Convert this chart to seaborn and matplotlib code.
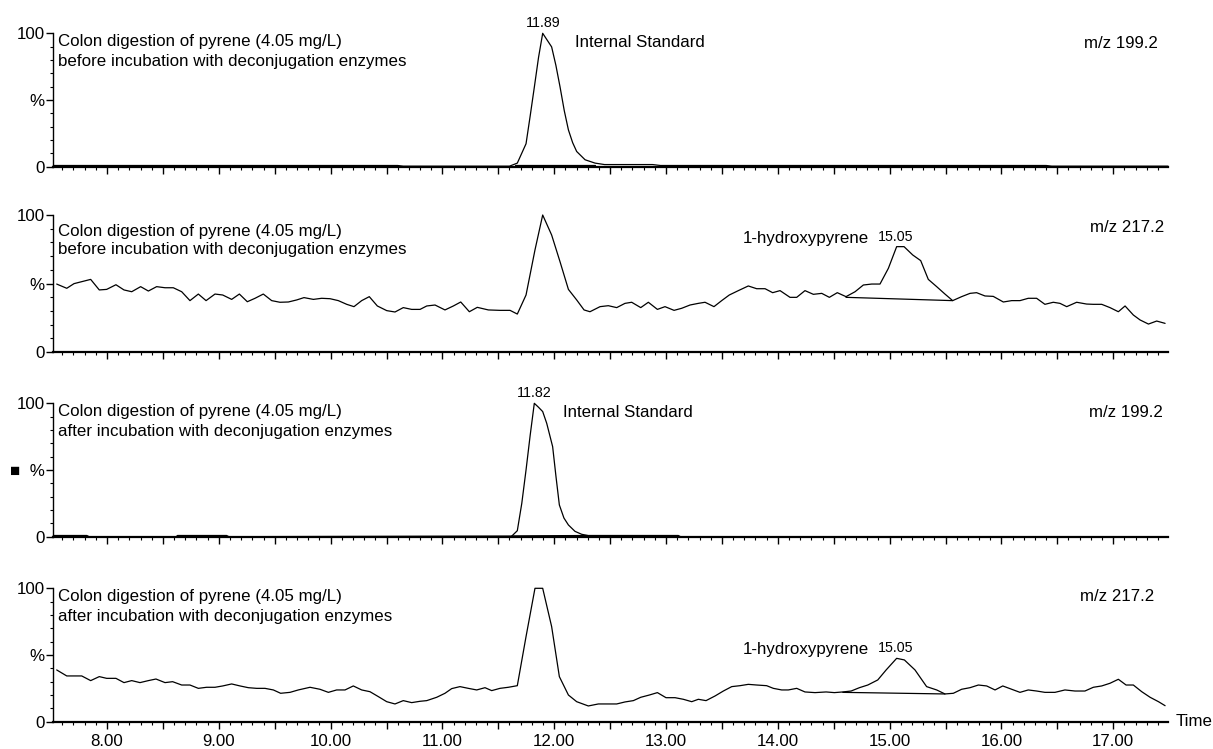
import numpy as np
import pandas as pd
import matplotlib
matplotlib.use("Agg")
import matplotlib.pyplot as plt
from matplotlib.ticker import MultipleLocator
import seaborn as sns

# ---------------- data ----------------
# Panel 1: m/z 199.2, before incubation (internal standard)
p1_time = [7.52, 10.60, 10.65, 11.60, 11.649, 11.670, 11.748, 11.785, 11.822, 11.860, 11.897, 11.977,
           12.015, 12.052, 12.090, 12.127, 12.165, 12.201, 12.276, 12.365, 12.45, 12.88, 12.95,
           16.40, 16.45, 17.49]
p1_pct = [0.9, 0.9, 0.4, 0.4, 2.0, 2.7, 17.2, 38.0, 59.5, 82.0, 100.0, 89.8,
          76.0, 59.9, 42.0, 27.6, 18.0, 11.4, 5.2, 2.7, 1.6, 1.6, 0.9,
          0.9, 0.4, 0.4]
p1_base_time = [11.649, 12.365]
p1_base_pct = [1.5, 1.5]

# Panel 2: m/z 217.2, before incubation
p2_time = [7.550, 7.640, 7.705, 7.774, 7.854, 7.931, 7.997, 8.080, 8.152, 8.221,
           8.301, 8.370, 8.444, 8.519, 8.593, 8.668, 8.742, 8.817, 8.886, 8.966,
           9.035, 9.115, 9.184, 9.255, 9.324, 9.398, 9.473, 9.547, 9.622, 9.697,
           9.762, 9.846, 9.920, 9.995, 10.069, 10.144, 10.209, 10.278, 10.346, 10.418,
           10.502, 10.576, 10.650, 10.725, 10.800, 10.860, 10.934, 11.023, 11.098, 11.164,
           11.241, 11.312, 11.411, 11.515, 11.605, 11.670, 11.748, 11.828, 11.897, 11.977,
           12.052, 12.127, 12.201, 12.267, 12.320, 12.410, 12.484, 12.559, 12.633, 12.693,
           12.774, 12.842, 12.923, 12.991, 13.072, 13.140, 13.215, 13.289, 13.349, 13.429,
           13.498, 13.566, 13.647, 13.736, 13.811, 13.886, 13.954, 14.020, 14.109, 14.169,
           14.243, 14.318, 14.393, 14.461, 14.532, 14.610, 14.691, 14.765, 14.840, 14.914,
           14.989, 15.063, 15.129, 15.207, 15.278, 15.346, 15.421, 15.495, 15.564, 15.644,
           15.719, 15.778, 15.853, 15.927, 16.017, 16.092, 16.166, 16.240, 16.315, 16.389,
           16.464, 16.524, 16.584, 16.673, 16.762, 16.822, 16.897, 16.971, 17.046, 17.106,
           17.180, 17.240, 17.315, 17.389, 17.464]
p2_pct = [49.6, 46.5, 49.9, 51.3, 53.0, 45.3, 45.7, 49.1, 45.3, 44.0,
          47.7, 44.5, 47.7, 46.9, 46.9, 44.0, 37.5, 42.3, 37.5, 42.3,
          41.6, 38.4, 42.3, 36.7, 39.2, 42.3, 37.5, 36.3, 36.5, 38.0,
          39.7, 38.4, 39.2, 38.9, 37.5, 34.8, 33.1, 37.5, 40.4, 33.6,
          30.2, 29.2, 32.4, 31.1, 31.1, 33.6, 34.3, 30.7, 33.6, 36.5,
          29.4, 32.6, 30.7, 30.4, 30.4, 27.7, 41.6, 74.5, 100.0, 85.4,
          65.9, 45.7, 38.0, 30.7, 29.4, 33.1, 33.8, 32.4, 35.5, 36.3,
          32.4, 36.3, 31.1, 33.1, 30.4, 31.9, 34.3, 35.5, 36.3, 33.1,
          37.5, 41.6, 44.8, 48.2, 46.2, 46.2, 43.3, 44.8, 39.9, 39.9,
          44.8, 42.1, 42.8, 39.9, 43.3, 40.4, 44.0, 48.9, 49.6, 49.6,
          61.1, 76.9, 76.9, 70.8, 66.7, 53.0, 47.7, 42.3, 37.5, 40.4,
          42.8, 43.3, 40.9, 40.6, 36.5, 37.5, 37.5, 39.2, 39.2, 34.8,
          36.3, 35.5, 33.1, 36.3, 35.0, 34.8, 34.8, 32.4, 29.4, 33.6,
          27.0, 23.4, 20.4, 22.6, 20.9]
p2_base_time = [14.610, 15.564]
p2_base_pct = [39.9, 37.5]

# Panel 3: m/z 199.2, after incubation (internal standard)
p3_time = [7.52, 7.82, 7.84, 8.62, 8.63, 9.07, 9.09, 11.621, 11.670, 11.710, 11.748, 11.785,
           11.822, 11.860, 11.897, 11.933, 11.986, 12.016, 12.046, 12.087, 12.127, 12.186, 12.246,
           12.30, 13.11, 13.13, 17.49]
p3_pct = [0.9, 0.9, 0.0, 0.0, 0.9, 0.9, 0.0, 0.5, 4.5, 25.0, 50.0, 76.0,
          100.0, 97.0, 93.8, 85.0, 67.5, 45.0, 23.8, 14.0, 8.8, 4.0, 1.8,
          0.9, 0.9, 0.0, 0.0]
p3_base_time = [11.621, 12.30]
p3_base_pct = [0.6, 0.9]

# Panel 4: m/z 217.2, after incubation
p4_time = [7.550, 7.640, 7.774, 7.854, 7.931, 7.997, 8.080, 8.152, 8.221, 8.295,
           8.370, 8.438, 8.519, 8.587, 8.668, 8.742, 8.817, 8.891, 8.966, 9.035,
           9.115, 9.190, 9.264, 9.339, 9.413, 9.488, 9.553, 9.637, 9.711, 9.816,
           9.905, 9.980, 10.054, 10.129, 10.203, 10.278, 10.352, 10.427, 10.502, 10.576,
           10.650, 10.725, 10.800, 10.860, 10.949, 11.023, 11.083, 11.157, 11.232, 11.307,
           11.381, 11.441, 11.515, 11.590, 11.670, 11.748, 11.828, 11.897, 11.977, 12.046,
           12.127, 12.201, 12.305, 12.395, 12.484, 12.559, 12.633, 12.708, 12.774, 12.851,
           12.923, 13.000, 13.081, 13.155, 13.230, 13.289, 13.358, 13.439, 13.513, 13.588,
           13.662, 13.736, 13.811, 13.900, 13.960, 14.035, 14.094, 14.169, 14.243, 14.333,
           14.432, 14.506, 14.581, 14.656, 14.730, 14.805, 14.894, 14.969, 15.063, 15.132,
           15.227, 15.331, 15.421, 15.495, 15.570, 15.644, 15.719, 15.794, 15.868, 15.943,
           16.012, 16.092, 16.166, 16.240, 16.315, 16.389, 16.479, 16.568, 16.658, 16.747,
           16.822, 16.897, 16.971, 17.046, 17.115, 17.180, 17.255, 17.330, 17.405, 17.464]
p4_pct = [38.8, 34.3, 34.3, 30.8, 33.8, 32.5, 32.5, 29.3, 30.8, 29.3,
          30.8, 32.0, 29.3, 30.0, 27.5, 27.5, 25.0, 25.8, 25.8, 26.8,
          28.3, 26.8, 25.5, 25.0, 25.0, 23.8, 21.3, 22.0, 23.8, 25.8,
          24.3, 22.0, 23.8, 23.8, 26.8, 23.8, 22.5, 18.8, 15.0, 13.3,
          15.8, 14.3, 15.3, 15.8, 18.3, 21.3, 24.8, 26.3, 25.0, 23.8,
          25.5, 23.3, 25.0, 25.8, 27.0, 63.8, 100.0, 100.0, 71.3, 33.8,
          20.0, 15.0, 11.8, 13.3, 13.3, 13.3, 14.8, 15.8, 18.3, 20.0,
          21.8, 18.0, 18.0, 16.8, 15.0, 16.8, 15.8, 19.3, 23.0, 26.3,
          27.0, 28.0, 27.5, 27.0, 25.0, 23.8, 23.8, 25.0, 22.3, 21.8,
          22.3, 21.8, 22.3, 23.0, 25.5, 27.5, 31.3, 38.8, 47.5, 46.3,
          38.8, 26.3, 23.8, 20.8, 21.3, 24.3, 25.5, 27.5, 26.8, 23.8,
          26.8, 24.3, 22.0, 23.8, 23.0, 22.0, 22.0, 23.8, 23.0, 23.0,
          25.8, 26.8, 28.8, 31.8, 27.5, 27.5, 22.5, 18.3, 15.0, 12.0]
p4_base_time = [14.581, 15.495]
p4_base_pct = [22.0, 20.8]

title_line1 = "Colon digestion of pyrene (4.05 mg/L)"
title_line2 = ["before incubation with deconjugation enzymes",
               "before incubation with deconjugation enzymes",
               "after incubation with deconjugation enzymes",
               "after incubation with deconjugation enzymes"]
mz_labels = ["m/z 199.2", "m/z 217.2", "m/z 199.2", "m/z 217.2"]
peak_rt_labels = ["11.89", "15.05", "11.82", "15.05"]
peak_name_labels = ["Internal Standard", "1-hydroxypyrene", "Internal Standard", "1-hydroxypyrene"]
x_tick_values = [8, 9, 10, 11, 12, 13, 14, 15, 16, 17]
x_tick_labels = ["8.00", "9.00", "10.00", "11.00", "12.00", "13.00", "14.00", "15.00", "16.00", "17.00"]
y_tick_values = [0, 50, 100]
y_tick_labels = ["0", "%", "100"]

# ---------------- style ----------------
sns.set_theme(style="ticks")
plt.rcParams['font.family'] = ['Liberation Sans', 'DejaVu Sans']
plt.rcParams['axes.facecolor'] = 'white'

fig = plt.figure(figsize=(12.13, 7.49), dpi=100)
W, H = 1213.0, 749.0
left_px, right_px = 53.0, 1168.0
panel_px = [(33.3, 166.7), (215.0, 352.0), (403.3, 536.7), (588.3, 721.7)]
XMIN, XMAX = 7.517, 17.49

traces = [(p1_time, p1_pct, p1_base_time, p1_base_pct),
          (p2_time, p2_pct, p2_base_time, p2_base_pct),
          (p3_time, p3_pct, p3_base_time, p3_base_pct),
          (p4_time, p4_pct, p4_base_time, p4_base_pct)]

# text positions (data coordinates)
title_y = [(93.7, 78.7), (88.0, 75.0), (93.8, 78.8), (93.8, 78.8)]
mz_pos = [(17.40, 92.5), (17.46, 91.2), (17.44, 92.8), (17.37, 93.5)]
rt_pos = [(11.897, 107.7), (15.053, 83.9), (11.819, 108.0), (15.053, 55.3)]
name_pos = [(12.186, 92.8), (13.689, 83.2), (12.076, 93.0), (13.689, 53.8)]

FS = 12.2
for i in range(4):
    top, bot = panel_px[i]
    ax = fig.add_axes([left_px / W, 1 - bot / H, (right_px - left_px) / W, (bot - top) / H])
    t, v, bt, bv = traces[i]
    df = pd.DataFrame({"time": t, "pct": v})
    sns.lineplot(data=df, x="time", y="pct", ax=ax, color="black", linewidth=0.9,
                 estimator=None, sort=False, clip_on=False)
    dfb = pd.DataFrame({"time": bt, "pct": bv})
    sns.lineplot(data=dfb, x="time", y="pct", ax=ax, color="black", linewidth=0.9,
                 estimator=None, sort=False, clip_on=False)
    ax.set_xlim(XMIN, XMAX)
    ax.set_ylim(0, 100)
    ax.set_xlabel("")
    ax.set_ylabel("")
    for s in ["top", "right"]:
        ax.spines[s].set_visible(False)
    ax.spines["bottom"].set_linewidth(1.6)
    ax.spines["left"].set_linewidth(1.0)
    ax.spines["bottom"].set_color("black")
    ax.spines["left"].set_color("black")

    ax.xaxis.set_major_locator(MultipleLocator(0.5))
    ax.xaxis.set_minor_locator(MultipleLocator(0.1))
    ax.tick_params(axis="x", which="major", length=5, width=1.0, direction="out",
                   colors="black", pad=4, labelsize=FS)
    ax.tick_params(axis="x", which="minor", length=2.5, width=0.8, direction="out", colors="black")
    if i == 3:
        majors = np.arange(7.5, 17.51, 0.5)
        labels = []
        for m in majors:
            if abs(m - round(m)) < 1e-6 and int(round(m)) in x_tick_values:
                labels.append(x_tick_labels[x_tick_values.index(int(round(m)))])
            else:
                labels.append("")
        ax.set_xticks(majors)
        ax.set_xticklabels(labels)
        ax.set_xlim(XMIN, XMAX)
        ax.text(1.007, 0.0, "Time", transform=ax.transAxes, fontsize=FS,
                ha="left", va="center", color="black")
    else:
        ax.tick_params(axis="x", which="both", labelbottom=False)

    ax.set_yticks(y_tick_values)
    ylabs = list(y_tick_labels)
    if i == 2:
        ylabs[1] = "\u25A0  %"
    ax.set_yticklabels(ylabs)
    ax.yaxis.set_minor_locator(MultipleLocator(10))
    ax.tick_params(axis="y", which="major", length=5, width=1.0, direction="out",
                   colors="black", pad=1, labelsize=FS)
    ax.tick_params(axis="y", which="minor", length=2.5, width=0.8, direction="out", colors="black")

    # annotations
    ax.text(7.562, title_y[i][0], title_line1, fontsize=FS, ha="left", va="center", color="black")
    ax.text(7.562, title_y[i][1], title_line2[i], fontsize=FS, ha="left", va="center", color="black")
    ax.text(mz_pos[i][0], mz_pos[i][1], mz_labels[i], fontsize=FS, ha="right", va="center",
            color="black", clip_on=False)
    ax.text(rt_pos[i][0], rt_pos[i][1], peak_rt_labels[i], fontsize=10.3, ha="center",
            va="center", color="black", clip_on=False)
    ax.text(name_pos[i][0], name_pos[i][1], peak_name_labels[i], fontsize=FS, ha="left",
            va="center", color="black", clip_on=False)
    ax.set_facecolor("white")

fig.savefig("out.png", dpi=100, facecolor="white")
